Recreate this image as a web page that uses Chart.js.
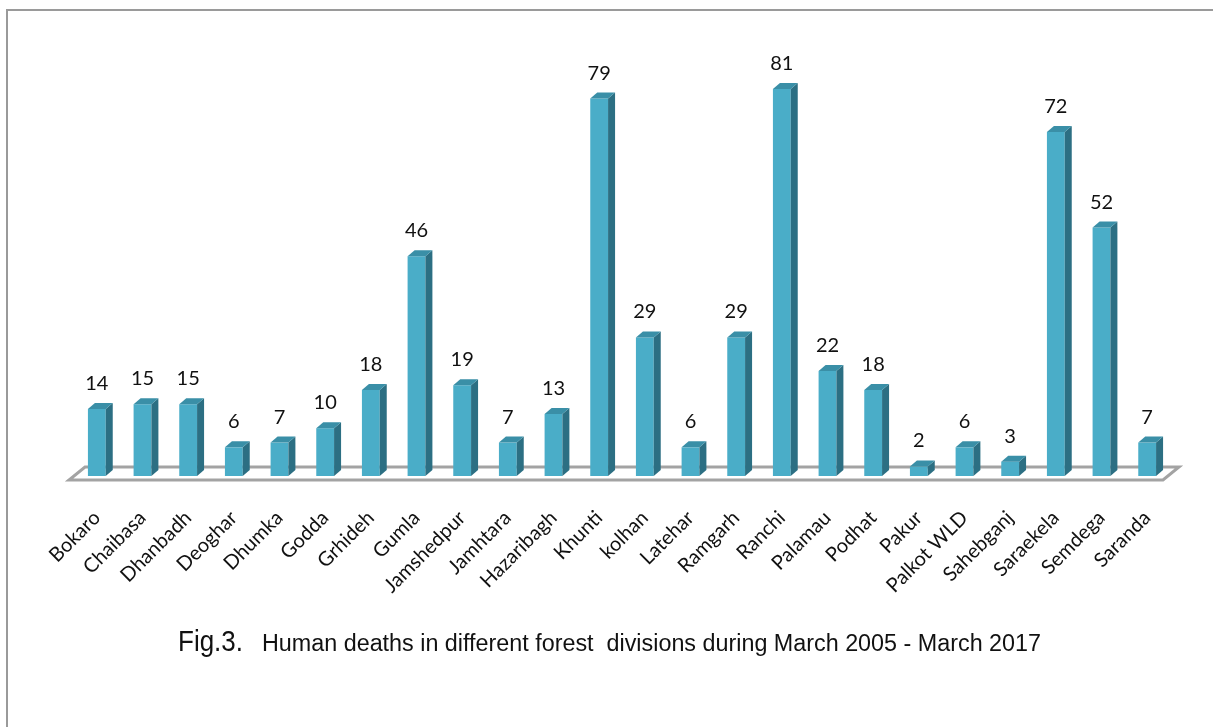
<!DOCTYPE html>
<html>
<head>
<meta charset="utf-8">
<script src="https://cdn.jsdelivr.net/npm/chart.js@4.4.1/dist/chart.umd.min.js"></script>
<style>
  html, body { margin: 0; padding: 0; background: #fff; overflow: hidden; }
  #wrap { position: relative; width: 1213px; height: 727px; }
  #frame { position: absolute; left: 6px; top: 9px; width: 1300px; height: 800px;
           border-left: 2px solid #9a9a9a; border-top: 2px solid #9a9a9a; }
  canvas { position: absolute; left: 0; top: 0; }
  .cap { position: absolute; white-space: nowrap; font-family: "Liberation Sans", Arial, sans-serif;
         color: #111; transform-origin: 0 0; line-height: 1; }
</style>
</head>
<body>
<div id="wrap">
  <div id="frame"></div>
  <canvas id="c" width="1213" height="727"></canvas>
  <span class="cap" id="capFig" style="font-size:30px;">Fig.3.</span>
  <span class="cap" id="capText" style="font-size:23px;">Human deaths in different forest&nbsp; divisions during March 2005 - March 2017</span>
</div>
<script>
const categories = ["Bokaro","Chaibasa","Dhanbadh","Deoghar","Dhumka","Godda","Grhideh","Gumla","Jamshedpur","Jamhtara","Hazaribagh","Khunti","kolhan","Latehar","Ramgarh","Ranchi","Palamau","Podhat","Pakur","Palkot WLD","Sahebganj","Saraekela","Semdega","Saranda"];
const deaths = [14,15,15,6,7,10,18,46,19,7,13,79,29,6,29,81,22,18,2,6,3,72,52,7];

const FRONT = "#4AADC8", SIDE = "#2C6F83", TOP = "#3A8FA7";
const DX = 7, DY = -6;

const threeD = {
  id: "threeD",
  beforeDatasetsDraw(chart) {
    const ctx = chart.ctx, a = chart.chartArea;
    const fl = a.left - 5, fr = a.right - 7, fy = a.bottom + 4;
    const bx = 16, by = -13;
    ctx.save();
    ctx.beginPath();
    ctx.moveTo(fl, fy);
    ctx.lineTo(fr, fy);
    ctx.lineTo(fr + bx, fy + by);
    ctx.lineTo(fl + bx, fy + by);
    ctx.closePath();
    ctx.fillStyle = "#ffffff";
    ctx.fill();
    ctx.lineWidth = 3;
    ctx.strokeStyle = "#a3a3a3";
    ctx.stroke();
    ctx.restore();
  },
  afterDatasetsDraw(chart) {
    const ctx = chart.ctx;
    const meta = chart.getDatasetMeta(0);
    const data = chart.data.datasets[0].data;
    ctx.save();
    meta.data.forEach((bar, i) => {
      const p = bar.getProps(["x", "y", "base", "width"], true);
      const l = p.x - p.width / 2, r = p.x + p.width / 2;
      ctx.beginPath();
      ctx.moveTo(r, p.base);
      ctx.lineTo(r + DX, p.base + DY);
      ctx.lineTo(r + DX, p.y + DY);
      ctx.lineTo(r, p.y);
      ctx.closePath();
      ctx.fillStyle = SIDE;
      ctx.fill();
      ctx.beginPath();
      ctx.moveTo(l, p.y);
      ctx.lineTo(r, p.y);
      ctx.lineTo(r + DX, p.y + DY);
      ctx.lineTo(l + DX, p.y + DY);
      ctx.closePath();
      ctx.fillStyle = TOP;
      ctx.fill();
      ctx.fillStyle = "#111";
      ctx.font = "20px Lato, 'Open Sans', sans-serif";
      ctx.textAlign = "center";
      ctx.textBaseline = "alphabetic";
      ctx.fillText(String(data[i]), p.x, p.y - 19);
    });
    ctx.restore();
  }
};

new Chart(document.getElementById("c"), {
  type: "bar",
  data: {
    labels: categories,
    datasets: [{
      data: deaths,
      backgroundColor: FRONT,
      borderWidth: 0,
      categoryPercentage: 1,
      barPercentage: 0.39
    }]
  },
  options: {
    responsive: false,
    animation: false,
    devicePixelRatio: 1,
    layout: { padding: { left: 74, right: 43, top: 46, bottom: 101 } },
    plugins: { legend: { display: false }, tooltip: { enabled: false }, title: { display: false } },
    scales: {
      x: {
        grid: { display: false },
        border: { display: false },
        ticks: {
          autoSkip: false,
          minRotation: 45,
          maxRotation: 45,
          padding: 22,
          color: "#111",
          font: { family: "Lato, 'Open Sans', sans-serif", size: 20 }
        },
        afterFit(scale) { scale.height = 150; scale.paddingLeft = 0; scale.paddingRight = 0; }
      },
      y: { display: false, min: 0, max: 90 }
    }
  },
  plugins: [threeD]
});

function fitCap(id, left, baseline, targetW) {
  const el = document.getElementById(id);
  const w = el.getBoundingClientRect().width;
  const fs = parseFloat(el.style.fontSize);
  const sx = targetW / w;
  el.style.left = left + "px";
  el.style.top = (baseline - fs * 0.86) + "px";
  el.style.transform = "scaleX(" + sx + ")";
}
fitCap("capFig", 178, 652, 65);
fitCap("capText", 262, 652, 779);
</script>
</body>
</html>
